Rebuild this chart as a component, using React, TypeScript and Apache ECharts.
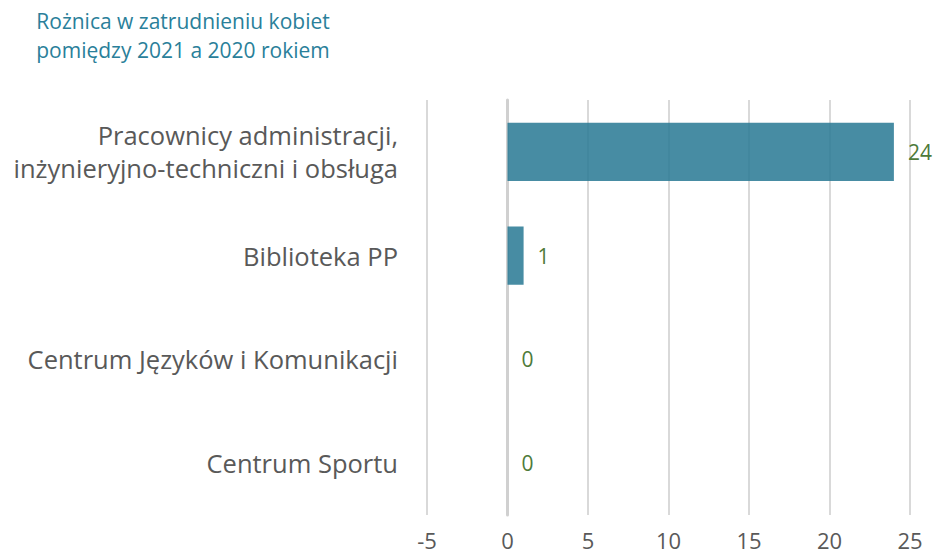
import React, { useEffect, useRef } from "react";
import * as echarts from "echarts";

const categories = [
  "Pracownicy administracji,\ninżynieryjno-techniczni i obsługa",
  "Biblioteka PP",
  "Centrum Języków i Komunikacji",
  "Centrum Sportu",
];
const values = [24, 1, 0, 0];
const titleLines = ["Rożnica w zatrudnieniu kobiet", "pomiędzy 2021 a 2020 rokiem"];
const xMin = -5;
const xMax = 25;
const xStep = 5;

const FONT = "'Open Sans', sans-serif";

export default function App() {
  const ref = useRef<HTMLDivElement>(null);
  useEffect(() => {
    document.body.style.margin = "0";
    const chart = echarts.init(ref.current!, undefined, { renderer: "svg" });
    chart.setOption({
      animation: false,
      backgroundColor: "#ffffff",
      graphic: [
        {
          type: "text",
          x: 183,
          y: 6,
          style: {
            text: titleLines.join("\n"),
            align: "center",
            verticalAlign: "top",
            fill: "#2a7f9a",
            font: `21px ${FONT}`,
            lineHeight: 29,
          },
        },
      ],
      grid: { left: 427, right: 28, top: 100, bottom: 41, containLabel: false },
      xAxis: {
        type: "value",
        min: xMin,
        max: xMax,
        interval: xStep,
        axisLine: { show: false },
        axisTick: { show: false },
        axisLabel: { color: "#595959", fontSize: 22, fontFamily: FONT, margin: 14, lineHeight: 22 },
        splitLine: { show: true, lineStyle: { color: "#d9d9d9", width: 2 } },
      },
      yAxis: {
        type: "category",
        data: categories,
        inverse: true,
        axisLine: { show: true, onZero: true, lineStyle: { color: "#d0d0d0", width: 3 } },
        axisTick: { show: false },
        axisLabel: {
          color: "#595959",
          fontSize: 25.5,
          fontFamily: FONT,
          lineHeight: 33,
          margin: 29,
          align: "right",
        },
      },
      series: [
        {
          type: "bar",
          data: values,
          barWidth: "56%",
          itemStyle: { color: "rgba(39,120,147,0.85)" },
          label: {
            show: true,
            position: "right",
            distance: 14,
            color: "#4e7a3a",
            fontSize: 21,
            fontFamily: FONT,
          },
        },
      ],
    });
    return () => chart.dispose();
  }, []);
  return <div ref={ref} style={{ position: "fixed", left: 0, top: 0, width: 938, height: 556 }} />;
}
